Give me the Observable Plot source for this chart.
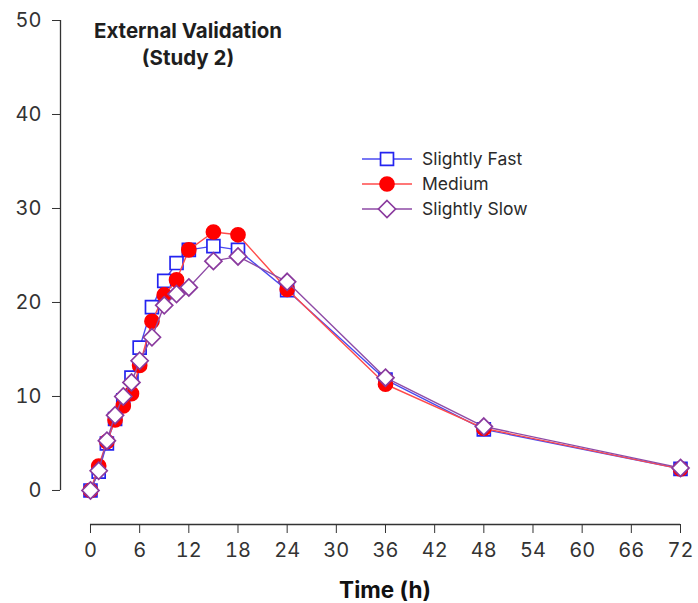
<!DOCTYPE html>
<html><head><meta charset="utf-8">
<script src="https://cdn.jsdelivr.net/npm/d3@7"></script>
<script src="https://cdn.jsdelivr.net/npm/@observablehq/plot@0.6"></script>
<style>
body{margin:0;background:#fff;}
#chart{position:relative;width:698px;height:603px;font-family:Inter,"Liberation Sans",Arial,sans-serif;color:#222;}
#chart .title{position:absolute;left:58px;width:260px;top:17px;text-align:center;font-weight:bold;font-size:20.5px;line-height:27px;color:#1e1e1e;}
#chart .xlabel{position:absolute;left:285px;width:200px;top:576px;text-align:center;font-weight:bold;font-size:22.5px;line-height:28px;color:#111;}
#chart .legend{position:absolute;left:355px;top:145px;}
</style></head><body><div id="chart"></div>
<script>
// ---- data ----
const times  = [0, 1, 2, 3, 4, 5, 6, 7.5, 9, 10.5, 12, 15, 18, 24, 36, 48, 72];
const fast   = [0, 2.0, 5.0, 7.6, 9.6, 12.0, 15.2, 19.5, 22.3, 24.2, 25.6, 26.0, 25.6, 21.3, 11.8, 6.5, 2.3];
const medium = [0, 2.6, 5.2, 7.5, 9.0, 10.3, 13.3, 18.0, 20.8, 22.4, 25.6, 27.5, 27.2, 21.4, 11.3, 6.6, 2.3];
const slow   = [0, 2.1, 5.3, 8.0, 10.0, 11.5, 13.8, 16.3, 19.7, 20.9, 21.6, 24.4, 24.9, 22.2, 12.0, 6.8, 2.4];
const seriesNames = ["Slightly Fast", "Medium", "Slightly Slow"];
const xTicks = [0, 6, 12, 18, 24, 30, 36, 42, 48, 54, 60, 66, 72];
const yTicks = [0, 10, 20, 30, 40, 50];
const titleLines = ["External Validation", "(Study 2)"];
const xTitle = "Time (h)";

// ---- styling ----
const colors = ["#2424f0", "#ff0000", "#8a3a9e"];
const lineColors = ["#4a4af0", "#ff4a4a", "#8e4aa6"];
const diamond = {draw(ctx, size){const r = Math.sqrt(size/2); ctx.moveTo(0,-r); ctx.lineTo(r,0); ctx.lineTo(0,r); ctx.lineTo(-r,0); ctx.closePath();}};
const symbols = ["square", "circle", diamond];
const radii = [7.3, 7, 6.8];
const fills = ["white", "#ff0000", "white"];

const allSeries = [fast, medium, slow];
const rows = [];
allSeries.forEach((vals, s) => vals.forEach((v, i) => rows.push({series: seriesNames[s], s, t: times[i], c: v})));

const xMin = -3.66, yMin = -3.62;

const marks = [
  Plot.axisY(yTicks, {anchor: "left", tickSize: 8, tickPadding: 11, fontSize: 20, label: null, stroke: "#333", color: "#333"}),
  Plot.axisX(xTicks, {anchor: "bottom", tickSize: 9, tickPadding: 9, fontSize: 20, label: null, stroke: "#333"}),
  Plot.ruleX([xMin], {y1: 0, y2: 50, stroke: "#333", strokeWidth: 1.3}),
  Plot.ruleY([yMin], {x1: 0, x2: 72, stroke: "#333", strokeWidth: 1.3})
];
seriesNames.forEach((name, s) => {
  const d = rows.filter(r => r.s === s);
  marks.push(Plot.line(d, {x: "t", y: "c", stroke: lineColors[s], strokeWidth: 1.4}));
  marks.push(Plot.dot(d, {x: "t", y: "c", symbol: () => symbols[s], r: radii[s], stroke: colors[s], fill: fills[s], strokeWidth: 1.7}));
});

const chart = Plot.plot({
  width: 698, height: 603,
  marginLeft: 60, marginRight: 18, marginTop: 20, marginBottom: 79,
  x: {domain: [xMin, 72]},
  y: {domain: [yMin, 50]},
  symbol: {type: "identity"},
  style: {fontFamily: "Inter, 'Liberation Sans', Arial, sans-serif", fontSize: "20px", color: "#333", background: "white", overflow: "visible"},
  marks
});
const root = document.getElementById("chart");
root.appendChild(chart);

const t = document.createElement("div");
t.className = "title";
t.innerHTML = titleLines.join("<br>");
root.appendChild(t);

const xl = document.createElement("div");
xl.className = "xlabel";
xl.textContent = xTitle;
root.appendChild(xl);

// legend
const ns = "http://www.w3.org/2000/svg";
const lg = document.createElementNS(ns, "svg");
lg.setAttribute("class", "legend");
lg.setAttribute("width", 200); lg.setAttribute("height", 80);
seriesNames.forEach((name, s) => {
  const cy = 14 + s * 25;
  const ln = document.createElementNS(ns, "line");
  ln.setAttribute("x1", 7); ln.setAttribute("x2", 57); ln.setAttribute("y1", cy); ln.setAttribute("y2", cy);
  ln.setAttribute("stroke", lineColors[s]); ln.setAttribute("stroke-width", 1.4);
  lg.appendChild(ln);
  const p = document.createElementNS(ns, "path");
  const path = d3.path();
  const sym = typeof symbols[s] === "string" ? (symbols[s] === "square" ? d3.symbolSquare : d3.symbolCircle) : symbols[s];
  sym.draw(path, radii[s] * radii[s] * Math.PI);
  p.setAttribute("d", path.toString());
  p.setAttribute("transform", `translate(32,${cy})`);
  p.setAttribute("fill", fills[s]); p.setAttribute("stroke", colors[s]); p.setAttribute("stroke-width", 1.7);
  lg.appendChild(p);
  const tx = document.createElementNS(ns, "text");
  tx.setAttribute("x", 67); tx.setAttribute("y", cy); tx.setAttribute("dy", "0.35em");
  tx.setAttribute("font-size", 17.5); tx.setAttribute("fill", "#2a2a2a");
  tx.setAttribute("font-family", "Inter, 'Liberation Sans', Arial, sans-serif");
  tx.textContent = name;
  lg.appendChild(tx);
});
root.appendChild(lg);
</script>
</body></html>
